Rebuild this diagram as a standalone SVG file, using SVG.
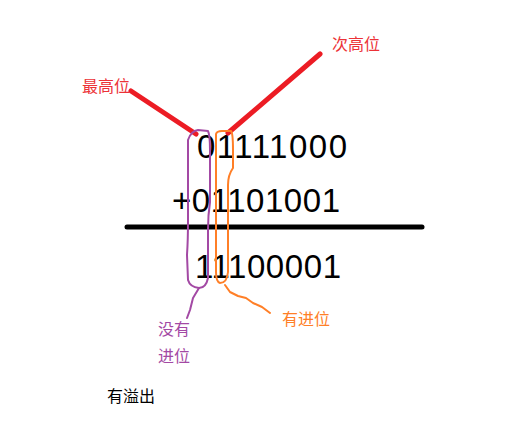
<svg xmlns="http://www.w3.org/2000/svg" width="525" height="437" viewBox="0 0 525 437">
<style>
.num{font-family:"Liberation Sans",Arial,sans-serif;font-size:33px;fill:#000}
.cn{font-family:"Noto Sans CJK SC","Liberation Sans",sans-serif;font-size:16px}
.red{stroke:#ec1c24;stroke-width:5;stroke-linecap:round;fill:none}
.pur{stroke:#a349a4;stroke-width:2;fill:none;stroke-linecap:round;stroke-linejoin:round}
.ora{stroke:#ff7f27;stroke-width:2;fill:none;stroke-linecap:round;stroke-linejoin:round}
</style>
<rect width="525" height="437" fill="#fff"/>
<g id="numbers">
<text class="num" x="197" y="158" textLength="150" lengthAdjust="spacing">01111000</text>
<text class="num" x="172" y="212" textLength="168" lengthAdjust="spacing">+01101001</text>
<text class="num" x="195" y="278" textLength="146" lengthAdjust="spacing">11100001</text>
</g>
<g id="sumline"><line x1="127" y1="227" x2="422" y2="227" stroke="#000" stroke-width="5" stroke-linecap="round"/></g>
<g id="connectors">
<line class="red" x1="131" y1="91" x2="196" y2="134"/>
<line class="red" x1="320" y1="54" x2="228" y2="133"/>
<path class="pur" d="M188,140 Q191,131 198,130 L208,131 Q210,135 210,150 L210,202 Q208,215 208,230 L208,278 Q206,288 199,288 Q190,287 188,280 L187,255 Q188,240 188,220 Z"/>
<path class="pur" d="M199,288 L193,298 L190,310 L187,318"/>
<path class="ora" d="M216,134 Q217,131 222,131 L231,131 Q233,133 233,150 L233,168 Q228,175 228,185 L228,272 Q227,283 220,283 Q216,282 216,272 L216,140 Z"/>
<path class="ora" d="M225,285 L230,292 L238,296 L246,298 L253,303 L262,307 L270,313"/>
</g>
<g id="labels">
<text class="cn" x="82" y="92" fill="#ec3237">最高位</text>
<text class="cn" x="332" y="50" fill="#ec3237">次高位</text>
<text class="cn" x="158" y="335" fill="#a349a4">没有</text>
<text class="cn" x="158" y="362" fill="#a349a4">进位</text>
<text class="cn" x="282" y="325" fill="#ff7f27">有进位</text>
<text class="cn" x="107" y="402" fill="#000">有溢出</text>
</g>
</svg>
